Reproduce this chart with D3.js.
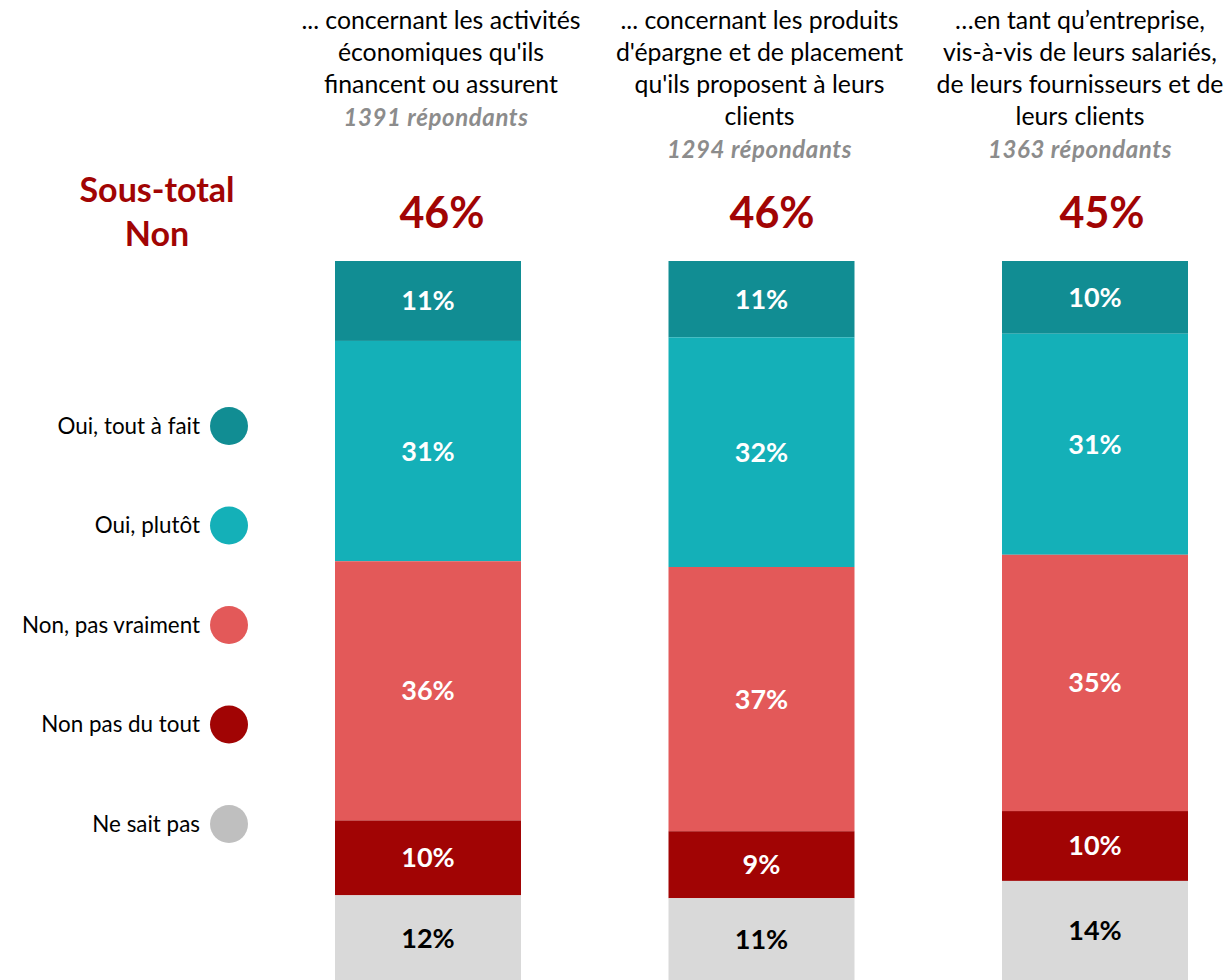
<!DOCTYPE html>
<html><head><meta charset="utf-8">
<script src="https://cdn.jsdelivr.net/npm/d3@7"></script>
<style>body{margin:0;background:#fff;overflow:hidden}svg{display:block}</style>
</head><body>
<svg id="chart" width="1231" height="980"></svg>
<script>
const categories = ["activites", "epargne", "entreprise"];
const titleLines = [
  ["... concernant les activités", "économiques qu'ils", "financent ou assurent"],
  ["... concernant les produits", "d'épargne et de placement", "qu'ils proposent à leurs", "clients"],
  ["…en tant qu’entreprise,", "vis-à-vis de leurs salariés,", "de leurs fournisseurs et de", "leurs clients"]
];
const respondents = ["1391 répondants", "1294 répondants", "1363 répondants"];
const sousTotalNon = ["46%", "46%", "45%"];
const seriesKeys = ["Oui, tout à fait", "Oui, plutôt", "Non, pas vraiment", "Non pas du tout", "Ne sait pas"];
const ouiToutAFait = [11.1, 10.6, 10.1];
const ouiPlutot = [30.6, 31.9, 30.7];
const nonPasVraiment = [36.0, 36.7, 35.6];
const nonPasDuTout = [10.4, 9.3, 9.7];
const neSaitPas = [11.9, 11.5, 13.9];
const labelOuiToutAFait = ["11%", "11%", "10%"];
const labelOuiPlutot = ["31%", "32%", "31%"];
const labelNonPasVraiment = ["36%", "37%", "35%"];
const labelNonPasDuTout = ["10%", "9%", "10%"];
const labelNeSaitPas = ["12%", "11%", "14%"];

const colors = ["#118d93", "#14b0b8", "#e35959", "#a10404", "#d9d9d9"];
const legendColors = ["#118d93", "#14b0b8", "#e35959", "#a10404", "#bfbfbf"];
const textColors = ["#fff", "#fff", "#fff", "#fff", "#000"];

const valuesBySeries = [ouiToutAFait, ouiPlutot, nonPasVraiment, nonPasDuTout, neSaitPas];
const labelsBySeries = [labelOuiToutAFait, labelOuiPlutot, labelNonPasVraiment, labelNonPasDuTout, labelNeSaitPas];

const table = categories.map((c, i) => {
  const row = {cat: c};
  seriesKeys.forEach((k, j) => row[k] = valuesBySeries[j][i]);
  return row;
});

const FONT = "Lato, 'Open Sans', sans-serif";
const svg = d3.select("#chart");

const xb = d3.scaleBand().domain(categories).range([335, 1188]).paddingInner(0.4423).paddingOuter(0);
const y = d3.scaleLinear().domain([0, 100]).range([261, 981]);

const stacked = d3.stack().keys(seriesKeys)(table);

const g = svg.append("g");
stacked.forEach((s, j) => {
  g.selectAll(null).data(s).enter().append("rect")
    .attr("x", d => xb(d.data.cat))
    .attr("width", xb.bandwidth())
    .attr("y", d => y(d[0]))
    .attr("height", d => y(d[1]) - y(d[0]))
    .attr("fill", colors[j]);
  g.selectAll(null).data(s).enter().append("text")
    .attr("x", d => xb(d.data.cat) + xb.bandwidth() / 2)
    .attr("y", d => (y(d[0]) + y(d[1])) / 2)
    .attr("dy", "0.35em")
    .attr("text-anchor", "middle")
    .attr("font-family", FONT)
    .attr("font-weight", "bold")
    .attr("font-size", 27)
    .attr("fill", textColors[j])
    .text((d, i) => labelsBySeries[j][i]);
});

// titles
const titleOffsets = [13, -2, -15];
const respOffsets = [8, -2, -15];
const pctOffsets = [14, 10.5, 7];
categories.forEach((c, i) => {
  const bc = xb(c) + xb.bandwidth() / 2;
  const cx = bc + titleOffsets[i];
  const t = svg.append("text")
    .attr("text-anchor", "middle")
    .attr("font-family", FONT)
    .attr("font-size", 24.8)
    .attr("fill", "#000");
  titleLines[i].forEach((line, k) => {
    t.append("tspan").attr("x", cx).attr("y", 29 + k * 32).text(line);
  });
  svg.append("text")
    .attr("x", bc + respOffsets[i]).attr("y", 126 + (titleLines[i].length - 3) * 32)
    .attr("text-anchor", "middle")
    .attr("font-family", FONT)
    .attr("font-size", 24)
    .attr("font-weight", "bold")
    .attr("font-style", "italic")
    .attr("letter-spacing", 0.6)
    .attr("fill", "#8c8c8c")
    .text(respondents[i]);
  svg.append("text")
    .attr("x", bc + pctOffsets[i]).attr("y", 228)
    .attr("text-anchor", "middle")
    .attr("font-family", FONT)
    .attr("font-size", 43)
    .attr("font-weight", "bold")
    .attr("fill", "#a10404")
    .text(sousTotalNon[i]);
});

// Sous-total label
svg.append("text")
  .attr("text-anchor", "middle")
  .attr("font-family", FONT)
  .attr("font-size", 34)
  .attr("font-weight", "bold")
  .attr("fill", "#a10404")
  .selectAll("tspan").data(["Sous-total", "Non"]).enter().append("tspan")
  .attr("x", 157).attr("y", (d, i) => 202 + i * 44).text(d => d);

// legend
const ly = d3.scalePoint().domain(seriesKeys).range([426, 824]);
const lg = svg.append("g");
seriesKeys.forEach((k, j) => {
  lg.append("circle").attr("cx", 229).attr("cy", ly(k)).attr("r", 19).attr("fill", legendColors[j]);
  lg.append("text").attr("x", 200).attr("y", ly(k)).attr("dy", "0.35em")
    .attr("text-anchor", "end")
    .attr("font-family", FONT).attr("font-size", 22.4).attr("fill", "#000")
    .text(k);
});
</script>
</body></html>
